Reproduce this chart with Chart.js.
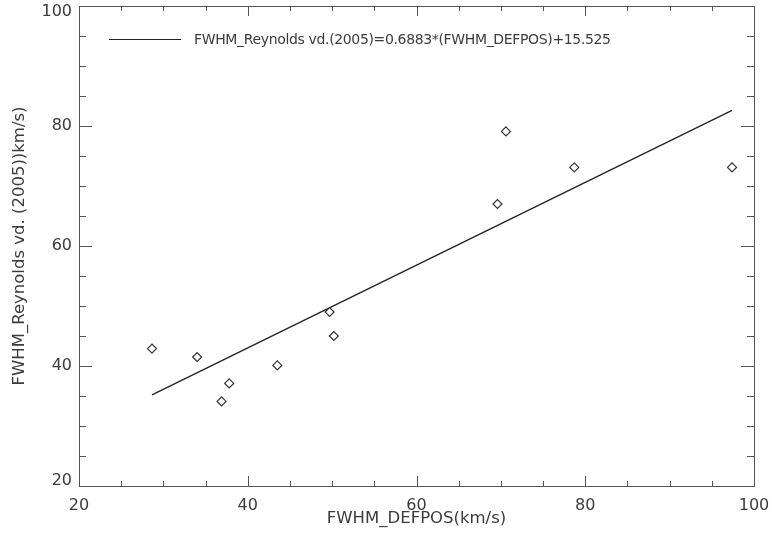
<!DOCTYPE html>
<html>
<head>
<meta charset="utf-8">
<script src="https://cdn.jsdelivr.net/npm/chart.js@4.4.1/dist/chart.umd.min.js"></script>
<style>
  html, body { margin: 0; padding: 0; background: #fff; }
  #wrap { width: 773px; height: 543px; }
</style>
</head>
<body>
<div id="wrap"><canvas id="myChart"></canvas></div>
<script>
// valori
const defposX = [28.65, 34.0, 37.8, 36.9, 43.5, 49.7, 50.2, 69.6, 70.6, 78.7, 97.4];
const reynoldsY = [42.9, 41.5, 37.1, 34.1, 40.1, 49.0, 45.0, 67.0, 79.1, 73.1, 73.1];

// retta di fit (estremi)
const fitX = [28.65, 97.4];
const fitY = [35.2, 82.6];

const axisMin = 20;
const axisMax = 100;
const majorStep = 20;
const minorStep = 5;

const legendText = 'FWHM_Reynolds vd.(2005)=0.6883*(FWHM_DEFPOS)+15.525';
const xTitle = 'FWHM_DEFPOS(km/s)';
const yTitle = 'FWHM_Reynolds vd. (2005))km/s)';

const textColor = '#3c3c3c';
const axisColor = '#555555';
const fontFamily = '"DejaVu Sans", sans-serif';

const toPoints = (xs, ys) => xs.map((x, i) => ({ x: x, y: ys[i] }));

// tacche interne su tutti e quattro i lati + cornice
const axisTicks = {
  id: 'axisTicks',
  beforeDraw(chart) {
    // le etichette estreme dell'asse y stanno dentro il riquadro, come in IDL
    const items = chart.scales.y.getLabelItems(chart.chartArea);
    if (items.length) {
      items[0].options.translation[1] -= 5;
      items[items.length - 1].options.translation[1] += 6;
    }
  },
  afterDraw(chart) {
    const { ctx, chartArea: a, scales: { x, y } } = chart;
    ctx.save();
    ctx.strokeStyle = axisColor;
    ctx.lineWidth = 1;
    ctx.strokeRect(a.left + 0.5, a.top + 0.5, a.right - a.left, a.bottom - a.top);
    ctx.beginPath();
    for (let v = axisMin; v <= axisMax; v += minorStep) {
      const major = v % majorStep === 0;
      const px = Math.round(x.getPixelForValue(v)) + 0.5;
      const lx = major ? 10 : 5;
      ctx.moveTo(px, a.bottom); ctx.lineTo(px, a.bottom - lx);
      ctx.moveTo(px, a.top); ctx.lineTo(px, a.top + lx);
      const py = Math.round(y.getPixelForValue(v)) + 0.5;
      const ly = major ? 13 : 7;
      ctx.moveTo(a.left, py); ctx.lineTo(a.left + ly, py);
      ctx.moveTo(a.right, py); ctx.lineTo(a.right - ly, py);
    }
    ctx.stroke();
    ctx.restore();
  }
};

// legenda dentro il grafico
const insideLegend = {
  id: 'insideLegend',
  afterDraw(chart) {
    const { ctx } = chart;
    ctx.save();
    ctx.strokeStyle = '#222';
    ctx.lineWidth = 1;
    ctx.beginPath();
    ctx.moveTo(109, 39.5);
    ctx.lineTo(181, 39.5);
    ctx.stroke();
    ctx.fillStyle = textColor;
    ctx.font = '14px ' + fontFamily;
    ctx.letterSpacing = '-0.35px';
    ctx.textBaseline = 'middle';
    ctx.textAlign = 'left';
    ctx.fillText(legendText, 194, 40);
    ctx.restore();
  }
};

new Chart(document.getElementById('myChart'), {
  type: 'scatter',
  data: {
    datasets: [
      {
        label: 'dati',
        data: toPoints(defposX, reynoldsY),
        pointStyle: 'rectRot',
        pointRadius: 4.5,
        pointBorderWidth: 1.2,
        pointBackgroundColor: '#fff',
        pointBorderColor: '#333'
      },
      {
        type: 'line',
        label: 'fit',
        data: toPoints(fitX, fitY),
        borderColor: '#222',
        borderWidth: 1.3,
        pointRadius: 0,
        fill: false
      }
    ]
  },
  options: {
    responsive: true,
    maintainAspectRatio: false,
    animation: false,
    layout: { padding: { top: 6, right: 19, left: 0, bottom: 0 } },
    plugins: { legend: { display: false }, tooltip: { enabled: false } },
    scales: {
      x: {
        type: 'linear',
        min: axisMin,
        max: axisMax,
        afterFit: s => { s.height = 57; s.paddingLeft = 0; s.paddingRight = 0; },
        grid: { display: false, drawTicks: false },
        border: { display: false },
        ticks: { stepSize: majorStep, padding: 10, color: textColor, font: { family: fontFamily, size: 16 } },
        title: { display: true, text: xTitle, color: textColor, font: { family: fontFamily, size: 16.5 }, padding: { bottom: 14 } }
      },
      y: {
        type: 'linear',
        min: axisMin,
        max: axisMax,
        afterFit: s => { s.width = 79; s.paddingTop = 0; s.paddingBottom = 0; },
        grid: { display: false, drawTicks: false },
        border: { display: false },
        ticks: { stepSize: majorStep, padding: 7, color: textColor, font: { family: fontFamily, size: 16 } },
        title: { display: true, text: yTitle, color: textColor, font: { family: fontFamily, size: 16.5 }, padding: { top: 10 } }
      }
    }
  },
  plugins: [axisTicks, insideLegend]
});
</script>
</body>
</html>
